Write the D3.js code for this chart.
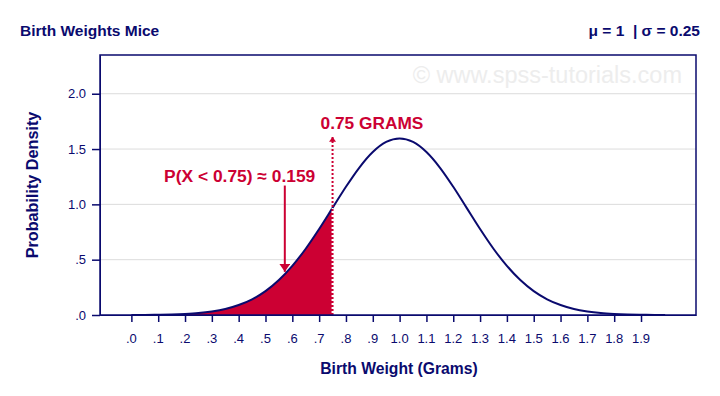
<!DOCTYPE html>
<html>
<head>
<meta charset="utf-8">
<script src="https://cdn.jsdelivr.net/npm/d3@7"></script>
<style>
  body { margin: 0; background: #fff; }
  svg { font-family: "Liberation Sans", Arial, sans-serif; }
</style>
</head>
<body>
<div id="chart"></div>
<script>
// chart data
const weights = [0.00, 0.05, 0.10, 0.15, 0.20, 0.25, 0.30, 0.35, 0.40, 0.45,
                 0.50, 0.55, 0.60, 0.65, 0.70, 0.75, 0.80, 0.85, 0.90, 0.95,
                 1.00, 1.05, 1.10, 1.15, 1.20, 1.25, 1.30, 1.35, 1.40, 1.45,
                 1.50, 1.55, 1.60, 1.65, 1.70, 1.75, 1.80, 1.85, 1.90, 1.95, 1.99];
const densities = [0.001, 0.001, 0.002, 0.005, 0.010, 0.018, 0.032, 0.054, 0.090, 0.142,
                   0.216, 0.316, 0.444, 0.599, 0.777, 0.968, 1.159, 1.333, 1.473, 1.564,
                   1.596, 1.564, 1.473, 1.333, 1.159, 0.968, 0.777, 0.599, 0.444, 0.316,
                   0.216, 0.142, 0.090, 0.054, 0.032, 0.018, 0.010, 0.005, 0.002, 0.001, 0.001];
const xTicks = [0, 0.1, 0.2, 0.3, 0.4, 0.5, 0.6, 0.7, 0.8, 0.9,
                1.0, 1.1, 1.2, 1.3, 1.4, 1.5, 1.6, 1.7, 1.8, 1.9];
const yTicks = [0, 0.5, 1.0, 1.5, 2.0];
const cutoff = 0.75;
const arrowAt = 0.572;   // where the probability arrow touches the curve

const width = 720, height = 396;
const margin = { top: 55, right: 24, bottom: 81, left: 100 };
const innerWidth = width - margin.left - margin.right;
const innerHeight = height - margin.top - margin.bottom;
const navy = "#0a0a6e", red = "#cc0033";

const svg = d3.select("#chart").append("svg")
    .attr("width", width).attr("height", height);

// arrowheads: drawn pointing along +x, tip at the line end
const defs = svg.append("defs");
const addHead = (id, len, half) => defs.append("marker").attr("id", id)
    .attr("viewBox", `0 0 ${len} ${half * 2}`).attr("refX", len).attr("refY", half)
    .attr("markerWidth", len).attr("markerHeight", half * 2)
    .attr("markerUnits", "userSpaceOnUse")
    .attr("orient", "auto")
  .append("path").attr("d", `M0,0 L${len},${half} L0,${half * 2} Z`).attr("fill", red);
addHead("bigHead", 8, 5.5);
addHead("smallHead", 5, 3.5);

const xScale = d3.scaleLinear().domain([-0.117, 2.105]).range([0, innerWidth]);
const yScale = d3.scaleLinear().domain([0, 2.35]).range([innerHeight, 0]);

const points = weights.map((w, i) => ({ x: w, y: densities[i] }));

// SPSS style labels: ".5" instead of "0.5"
const fmt = d => d < 1 ? d3.format(".1f")(d).replace(/^0/, "") : d3.format(".1f")(d);

// titles
svg.append("text").text("Birth Weights Mice")
    .attr("x", 20).attr("y", 36)
    .attr("fill", navy).attr("font-weight", "bold").attr("font-size", 15.5);
svg.append("text").text("μ = 1  | σ = 0.25")
    .attr("x", 700).attr("y", 36).attr("text-anchor", "end")
    .attr("fill", navy).attr("font-weight", "bold").attr("font-size", 15.5)
    .style("white-space", "pre");

const inner = svg.append("g")
    .attr("transform", `translate(${margin.left}, ${margin.top})`);

// watermark
inner.append("text").text("© www.spss-tutorials.com")
    .attr("x", innerWidth - 14).attr("y", 28).attr("text-anchor", "end")
    .attr("fill", "#ededed").attr("font-size", 23.5);

// gridlines
inner.selectAll(".grid").data(yTicks.filter(d => d > 0)).join("line")
    .attr("x1", 0).attr("x2", innerWidth)
    .attr("y1", d => yScale(d)).attr("y2", d => yScale(d))
    .attr("stroke", "#dcdcdc");

// shaded area below the cutoff
const area = d3.area().x(d => xScale(d.x)).y0(yScale(0)).y1(d => yScale(d.y))
    .curve(d3.curveMonotoneX);
inner.append("path").datum(points.filter(d => d.x <= cutoff))
    .attr("d", area).attr("fill", red);

// density curve
const line = d3.line().x(d => xScale(d.x)).y(d => yScale(d.y)).curve(d3.curveMonotoneX);
inner.append("path").datum(points)
    .attr("d", line).attr("fill", "none")
    .attr("stroke", navy).attr("stroke-width", 2);

// dotted cutoff marker (red dots above the curve, white dots inside the area)
const cutY = densities[weights.indexOf(cutoff)];
inner.append("line")
    .attr("x1", xScale(cutoff)).attr("x2", xScale(cutoff))
    .attr("y1", yScale(0)).attr("y2", yScale(1.61))
    .attr("stroke", red).attr("stroke-width", 2).attr("stroke-dasharray", "2,2")
    .attr("marker-end", "url(#smallHead)");
inner.append("line")
    .attr("x1", xScale(cutoff)).attr("x2", xScale(cutoff))
    .attr("y1", yScale(0)).attr("y2", yScale(cutY))
    .attr("stroke", "#fff").attr("stroke-width", 2).attr("stroke-dasharray", "2,2")
    .attr("stroke-dashoffset", 2);
inner.append("text").text("0.75 GRAMS")
    .attr("x", xScale(cutoff) - 12).attr("y", yScale(1.68))
    .attr("fill", red).attr("font-weight", "bold").attr("font-size", 17.3);

// probability annotation
inner.append("line")
    .attr("x1", xScale(arrowAt)).attr("x2", xScale(arrowAt))
    .attr("y1", yScale(1.17)).attr("y2", yScale(0.39))
    .attr("stroke", red).attr("stroke-width", 2)
    .attr("marker-end", "url(#bigHead)");
inner.append("text").text("P(X < 0.75) ≈ 0.159")
    .attr("x", xScale(0.122)).attr("y", yScale(1.2))
    .attr("fill", red).attr("font-weight", "bold").attr("font-size", 17.4);

// frame
inner.append("rect").attr("width", innerWidth).attr("height", innerHeight)
    .attr("fill", "none").attr("stroke", navy).attr("stroke-width", 1.5);

// axes (tick marks from d3 axes, labels placed with the same scales)
inner.append("g")
    .attr("transform", `translate(0, ${innerHeight})`)
    .attr("color", navy)
    .call(d3.axisBottom(xScale).tickValues(xTicks).tickFormat("")
        .tickSize(7).tickSizeOuter(0))
    .call(g => g.selectAll(".tick line").attr("stroke-width", 1.5));

inner.append("g")
    .attr("color", navy)
    .call(d3.axisLeft(yScale).tickValues(yTicks).tickFormat("")
        .tickSize(8).tickSizeOuter(0))
    .call(g => g.selectAll(".tick line").attr("stroke-width", 1.5));

inner.append("g").selectAll("text").data(xTicks).join("text")
    .text(fmt)
    .attr("x", d => xScale(d)).attr("y", innerHeight + 28)
    .attr("text-anchor", "middle")
    .attr("fill", navy).attr("font-size", 13);

inner.append("g").selectAll("text").data(yTicks).join("text")
    .text(fmt)
    .attr("x", -14).attr("y", d => yScale(d) + 4.5)
    .attr("text-anchor", "end")
    .attr("fill", navy).attr("font-size", 13);

// axis labels
svg.append("text").text("Birth Weight (Grams)")
    .attr("x", 399).attr("y", 374).attr("text-anchor", "middle")
    .attr("fill", navy).attr("font-weight", "bold").attr("font-size", 15.7);
svg.append("text").text("Probability Density")
    .attr("transform", "translate(38, 185) rotate(-90)")
    .attr("text-anchor", "middle")
    .attr("fill", navy).attr("font-weight", "bold").attr("font-size", 16.2);
</script>
</body>
</html>
